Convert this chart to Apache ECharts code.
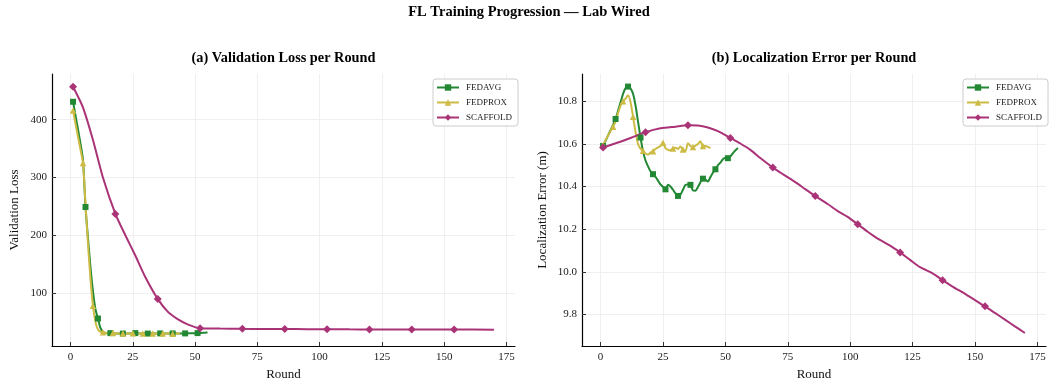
<!DOCTYPE html>
<html>
<head>
<meta charset="utf-8">
<script src="https://cdn.jsdelivr.net/npm/echarts@6/dist/echarts.min.js"></script>
<style>
  html, body { margin: 0; padding: 0; background: #fff; }
  #chart { width: 1054px; height: 387px; }
</style>
</head>
<body>
<div id="chart"></div>
<script>
// ---- data ----
const methods = ['FEDAVG', 'FEDPROX', 'SCAFFOLD'];
const roundTicks = [0, 25, 50, 75, 100, 125, 150, 175];
const lossTicks = [100, 200, 300, 400];
const errorTicks = [9.8, 10.0, 10.2, 10.4, 10.6, 10.8];

// validation loss, one value per round (round 1 .. n)
const fedavgLoss = [431, 407, 383, 358, 330, 249, 195, 145, 103, 72, 56, 40, 33, 31, 30.5,
  30.8, 30.5, 30.2, 30.0, 30.1, 30.0, 30.3, 30.1, 30.4, 30.6, 30.8, 30.4, 30.1, 30.0, 30.2,
  30.0, 30.1, 30.3, 30.2, 30.0, 30.3, 30.4, 30.1, 30.2, 30.0, 30.2, 30.4, 30.3, 30.1, 30.0,
  30.3, 30.5, 30.4, 30.6, 30.7, 30.8, 31.0, 31.3, 31.6, 31.9];
const fedproxLoss = [416, 393, 370, 348, 325, 255, 185, 125, 78, 50, 37, 33, 32.5, 31.5, 31,
  30.6, 31.0, 30.5, 30.2, 30.0, 30.0, 30.4, 30.2, 30.0, 30.5, 30.2, 30.0, 30.3, 30.1, 29.9,
  30.2, 30.0, 30.1, 29.8, 30.0, 30.2, 30.0, 29.9, 30.1, 30.0, 29.9, 30.0, 30.1, 30.0];
// SCAFFOLD runs 170 rounds; sampled rounds with their values
const scaffoldLossRounds = [1, 5, 9, 13, 18, 22, 26, 30, 35, 39, 43, 47, 52, 60, 69, 77, 86, 95, 103, 112, 120, 137, 154, 170];
const scaffoldLossValues = [457, 421, 365, 300, 237, 200, 165, 128, 90, 68, 55, 46, 39.4, 38.6, 38.2, 38.0, 37.8, 37.6, 37.5, 37.3, 37.2, 37.0, 36.9, 36.8];

// localization error (m), one value per round
const fedavgError = [10.590, 10.615, 10.640, 10.665, 10.690, 10.717, 10.755, 10.795, 10.835, 10.862,
  10.869, 10.860, 10.835, 10.780, 10.705, 10.630, 10.565, 10.522, 10.495, 10.472,
  10.458, 10.445, 10.428, 10.410, 10.398, 10.387, 10.408, 10.400, 10.385, 10.368,
  10.356, 10.362, 10.385, 10.408, 10.410, 10.408, 10.382, 10.380, 10.398, 10.420,
  10.437, 10.432, 10.424, 10.445, 10.465, 10.481, 10.500, 10.512, 10.528, 10.535,
  10.533, 10.542, 10.556, 10.570, 10.581];
const fedproxError = [10.594, 10.618, 10.640, 10.660, 10.681, 10.705, 10.745, 10.780, 10.800, 10.812,
  10.828, 10.795, 10.728, 10.655, 10.600, 10.578, 10.568, 10.555, 10.550, 10.560,
  10.566, 10.576, 10.584, 10.590, 10.606, 10.580, 10.572, 10.570, 10.578, 10.582,
  10.576, 10.588, 10.574, 10.566, 10.603, 10.590, 10.585, 10.592, 10.600, 10.612,
  10.590, 10.590, 10.586, 10.581];
const scaffoldErrorRounds = [1, 6, 12, 18, 24, 30, 35, 39, 43, 47, 52, 56, 60, 64, 69, 73, 78, 82, 86, 91, 95, 99, 103,
  107, 111, 116, 120, 124, 128, 133, 137, 141, 146, 150, 154, 158, 162, 166, 170];
const scaffoldErrorValues = [10.583, 10.603, 10.628, 10.655, 10.673, 10.681, 10.687, 10.686, 10.677, 10.660, 10.628,
  10.602, 10.572, 10.534, 10.489, 10.458, 10.421, 10.388, 10.356, 10.318, 10.285, 10.258, 10.223,
  10.188, 10.156, 10.123, 10.091, 10.056, 10.022, 9.993, 9.961, 9.931, 9.897, 9.867, 9.838,
  9.807, 9.776, 9.744, 9.713];

// ---- styling ----
const FONT = '"Liberation Serif", "DejaVu Serif", serif';
const colors = { FEDAVG: '#228833', FEDPROX: '#CCBB44', SCAFFOLD: '#AA3377' };
const markers = {
  FEDAVG: { symbol: 'rect', size: 6, every: 5 },
  FEDPROX: { symbol: 'triangle', size: 6.5, every: 4 },
  SCAFFOLD: { symbol: 'diamond', size: 8, every: 17 }
};

function perRound(values) {
  return values.map((v, i) => [i + 1, v]);
}
function paired(rounds, values) {
  return rounds.map((r, i) => [r, values[i]]);
}

function lineSeries(name, data, axisIndex) {
  const m = markers[name];
  return {
    name: name,
    type: 'line',
    xAxisIndex: axisIndex,
    yAxisIndex: axisIndex,
    data: data,
    smooth: 0.25,
    symbol: m.symbol,
    showSymbol: true,
    showAllSymbol: true,
    symbolSize: (v) => ((v[0] - 1) % m.every === 0 ? m.size : 0),
    lineStyle: { width: 2, color: colors[name] },
    itemStyle: { color: colors[name] },
    emphasis: { disabled: true },
    animation: false
  };
}

function xAxisFor(gridIndex) {
  return {
    type: 'value',
    gridIndex: gridIndex,
    min: -7.45,
    max: 178.45,
    name: 'Round',
    nameLocation: 'middle',
    nameGap: 21,
    nameTextStyle: { fontFamily: FONT, fontSize: 13, color: '#111' },
    axisLine: { show: true, onZero: false, lineStyle: { color: '#000', width: 1.2 } },
    axisTick: { show: true, inside: true, length: 4, lineStyle: { color: '#333', width: 1 }, customValues: roundTicks },
    axisLabel: { customValues: roundTicks, fontFamily: FONT, fontSize: 11, color: '#1a1a1a', margin: 6 },
    splitLine: { show: true, lineStyle: { color: '#ebebeb', width: 0.8 } }
  };
}

function yAxisFor(gridIndex, min, max, ticks, name, gap, fmt) {
  return {
    type: 'value',
    gridIndex: gridIndex,
    min: min,
    max: max,
    name: name,
    nameLocation: 'middle',
    nameGap: gap,
    nameTextStyle: { fontFamily: FONT, fontSize: 13, color: '#111' },
    axisLine: { show: true, onZero: false, lineStyle: { color: '#000', width: 1.2 } },
    axisTick: { show: true, inside: true, length: 4, lineStyle: { color: '#333', width: 1 }, customValues: ticks },
    axisLabel: { customValues: ticks, fontFamily: FONT, fontSize: 11, color: '#1a1a1a', margin: 5, formatter: fmt },
    splitLine: { show: true, lineStyle: { color: '#ebebeb', width: 0.8 } }
  };
}

function legendAt(left, top) {
  return {
    orient: 'vertical',
    left: left,
    top: top,
    data: methods,
    itemWidth: 22,
    itemHeight: 8,
    itemGap: 6,
    padding: [4, 6, 4, 3],
    backgroundColor: 'rgba(255,255,255,0.85)',
    borderColor: '#cccccc',
    borderWidth: 1,
    borderRadius: 3,
    selectedMode: false,
    textStyle: { fontFamily: FONT, fontSize: 9, color: '#222', padding: [0, 0, 0, 2] }
  };
}

const chart = echarts.init(document.getElementById('chart'), null, { renderer: 'canvas' });

chart.setOption({
  backgroundColor: '#ffffff',
  animation: false,
  title: [
    { text: 'FL Training Progression — Lab Wired', left: 529, top: 5, textAlign: 'center', padding: 0,
      textStyle: { fontFamily: FONT, fontSize: 14.5, fontWeight: 'bold', color: '#000' } },
    { text: '(a) Validation Loss per Round', left: 283.5, top: 51, textAlign: 'center', padding: 0,
      textStyle: { fontFamily: FONT, fontSize: 14.3, fontWeight: 'bold', color: '#000' } },
    { text: '(b) Localization Error per Round', left: 814, top: 51, textAlign: 'center', padding: 0,
      textStyle: { fontFamily: FONT, fontSize: 14.3, fontWeight: 'bold', color: '#000' } }
  ],
  legend: [legendAt(433, 79), legendAt(963, 79)],
  grid: [
    { left: 52, top: 74, width: 463, height: 272, containLabel: false },
    { left: 582, top: 74, width: 464, height: 272, containLabel: false }
  ],
  xAxis: [xAxisFor(0), xAxisFor(1)],
  yAxis: [
    yAxisFor(0, 8.5, 479, lossTicks, 'Validation Loss', 31, (v) => String(Math.round(v))),
    yAxisFor(1, 9.652, 10.928, errorTicks, 'Localization Error (m)', 33, (v) => v.toFixed(1))
  ],
  series: [
    lineSeries('FEDAVG', perRound(fedavgLoss), 0),
    lineSeries('FEDPROX', perRound(fedproxLoss), 0),
    lineSeries('SCAFFOLD', paired(scaffoldLossRounds, scaffoldLossValues), 0),
    lineSeries('FEDAVG', perRound(fedavgError), 1),
    lineSeries('FEDPROX', perRound(fedproxError), 1),
    lineSeries('SCAFFOLD', paired(scaffoldErrorRounds, scaffoldErrorValues), 1)
  ]
});
</script>
</body>
</html>
